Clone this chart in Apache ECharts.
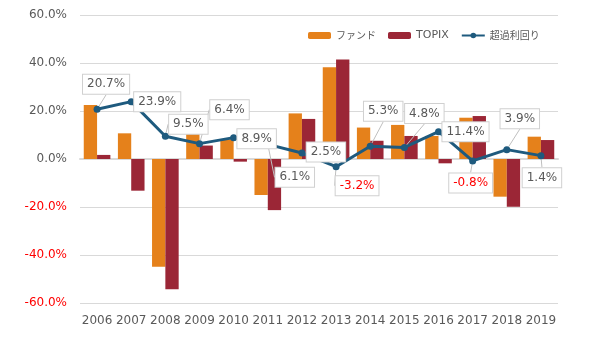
<!DOCTYPE html>
<html><head><meta charset="utf-8">
<script src="https://cdn.jsdelivr.net/npm/echarts@6/dist/echarts.min.js"></script>
<style>html,body{margin:0;padding:0;background:#fff}#c{width:600px;height:338px}</style>
</head><body><div id="c"></div>
<script>
const categories = ['2006','2007','2008','2009','2010','2011','2012','2013','2014','2015','2016','2017','2018','2019'];
const fund  = [22.5, 10.7, -44.9, 10.3, 8.2, -15.0, 19.0, 38.2, 13.1, 14.2, 9.6, 17.2, -15.7, 9.3];
const topix = [1.7, -13.2, -54.3, 5.6, -1.1, -21.3, 16.7, 41.5, 7.6, 9.6, -1.8, 17.9, -19.9, 7.9];
const excess = [20.7, 23.9, 9.5, 6.4, 8.9, 6.1, 2.5, -3.2, 5.3, 4.8, 11.4, -0.8, 3.9, 1.4];
const seriesNames = ['ファンド', 'TOPIX', '超過利回り'];
const yTicks = [-60, -40, -20, 0, 20, 40, 60];
// callout offsets (layout, not data)
const labelOffsets = [[9,-25],[26,0],[23,-12],[30,-34],[23,1],[27,33],[24,-1],[21,19],[13,-35],[20,-34],[27,0],[-2,22],[13,-31],[1,22]];

const GRAY = '#595959', RED = '#ff0000';
const FONT = 'DejaVu Sans';
const chart = echarts.init(document.getElementById('c'));
chart.setOption({
  animation: false,
  textStyle: { fontFamily: FONT },
  grid: { left: 80, right: 42, top: 15, bottom: 35 },
  legend: {
    top: 30, left: 308, padding: 0,
    itemWidth: 23, itemHeight: 7, itemGap: 12,
    formatter: n => /^[A-Za-z]+$/.test(n) ? n : '{j|' + n + '}',
    textStyle: { color: GRAY, fontSize: 11, fontFamily: FONT,
      rich: { j: { fontSize: 10, color: GRAY, fontFamily: 'Noto Sans CJK JP' } } },
    data: seriesNames
  },
  xAxis: {
    type: 'category', data: categories,
    axisLine: { show: true, lineStyle: { color: '#d9d9d9', width: 2 } },
    axisTick: { show: false },
    axisLabel: { color: GRAY, fontSize: 12, margin: 12, interval: 0, fontFamily: FONT }
  },
  yAxis: {
    type: 'value', min: yTicks[0], max: yTicks[yTicks.length - 1], interval: 20,
    axisLine: { show: false }, axisTick: { show: false },
    splitLine: { lineStyle: { color: '#d9d9d9', width: 1 } },
    axisLabel: {
      fontSize: 12, margin: 13, fontFamily: FONT,
      formatter: v => v.toFixed(1) + '%',
      color: v => (v < 0 ? RED : GRAY)
    }
  },
  series: [
    { name: seriesNames[0], type: 'bar', data: fund, barGap: '0%', barCategoryGap: '22%',
      itemStyle: { color: '#e5811b' } },
    { name: seriesNames[1], type: 'bar', data: topix,
      itemStyle: { color: '#9b2636' } },
    { name: seriesNames[2], type: 'line', z: 5,
      data: excess.map(v => ({ value: v, label: { color: v < 0 ? RED : GRAY } })),
      symbol: 'circle', symbolSize: 7,
      lineStyle: { color: '#1e5a7e', width: 3 },
      itemStyle: { color: '#1e5a7e' },
      label: {
        show: true, position: 'inside', fontSize: 12, fontFamily: FONT,
        formatter: p => p.value.toFixed(1) + '%',
        backgroundColor: '#fff', borderColor: '#d0d0d0', borderWidth: 1,
        padding: [4, 4, 3, 4]
      },
      labelLine: { show: true, lineStyle: { color: '#bfbfbf', width: 1 } },
      labelLayout: p => ({ dx: labelOffsets[p.dataIndex][0], dy: labelOffsets[p.dataIndex][1] })
    }
  ]
});
</script></body></html>
